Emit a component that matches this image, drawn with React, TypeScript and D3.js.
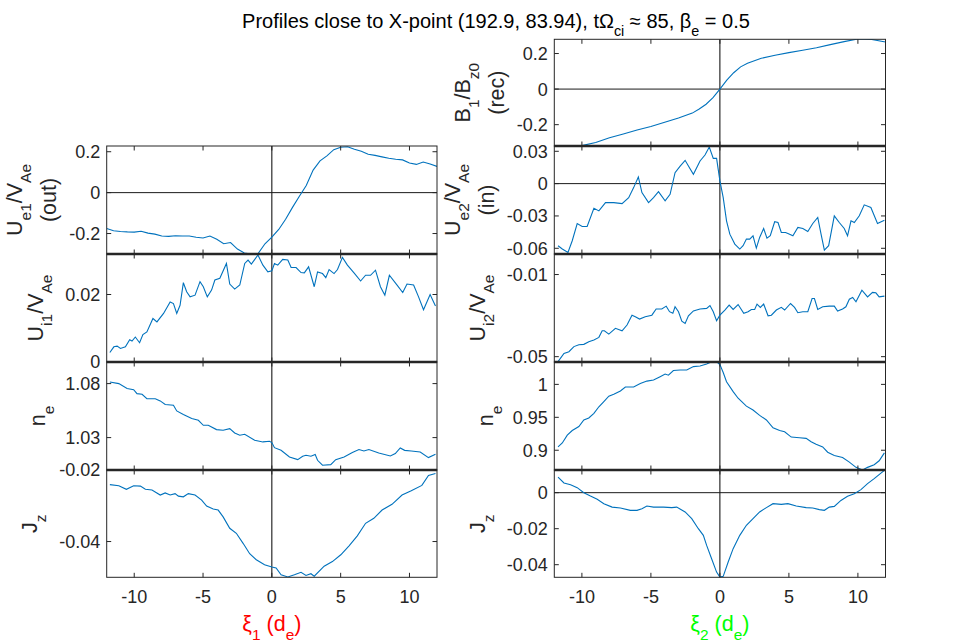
import * as React from 'react';
import * as d3 from 'd3';

type Pt = [number, number];
type Seg = [string, boolean?];

// ---- data (xi in d_e, value) ----
const xiTicks = [-10, -5, 0, 5, 10];
const xiTickLabels = ['-10', '-5', '0', '5', '10'];

const b1Rec: Pt[] = [
  [-12, -0.32], [-11, -0.32], [-10, -0.318], [-9, -0.3], [-8, -0.274], [-7, -0.252],
  [-6, -0.23], [-5, -0.21], [-4, -0.186], [-3, -0.163], [-2, -0.135], [-1.5, -0.112],
  [-1, -0.085], [-0.5, -0.048], [0, 0], [0.5, 0.05], [1, 0.092], [1.5, 0.125], [2, 0.145],
  [3, 0.173], [4, 0.19], [5, 0.205], [6, 0.218], [7, 0.232], [8, 0.25], [9, 0.267],
  [10, 0.282], [11, 0.279], [12, 0.265],
];

const ue1Out: Pt[] = [
  [-12, -0.175], [-11.5, -0.186], [-11, -0.19], [-10.5, -0.192], [-10, -0.193], [-9.5, -0.189],
  [-9, -0.198], [-8.5, -0.203], [-8, -0.212], [-7.5, -0.214], [-7, -0.211], [-6.5, -0.212],
  [-6, -0.212], [-5.5, -0.218], [-5, -0.222], [-4.5, -0.212], [-4, -0.228], [-3.5, -0.25],
  [-3, -0.244], [-2.5, -0.276], [-2, -0.295], [-1.5, -0.3], [-1, -0.298], [-0.5, -0.25],
  [0, -0.217], [0.5, -0.18], [1, -0.13], [1.5, -0.072], [2, -0.018], [2.5, 0.035],
  [3, 0.11], [3.5, 0.155], [4, 0.18], [4.5, 0.21], [5, 0.222], [5.5, 0.224], [6, 0.212],
  [6.5, 0.202], [7, 0.188], [7.5, 0.182], [8, 0.175], [8.5, 0.168], [9, 0.163], [9.5, 0.16],
  [10, 0.145], [10.5, 0.138], [11, 0.15], [11.5, 0.14], [12, 0.128],
];

const ui1: Pt[] = [
  [-11.77, 0.0028], [-11.48, 0.0045], [-11.24, 0.0047], [-11.0, 0.004], [-10.64, 0.0045],
  [-10.33, 0.0066], [-10.16, 0.0062], [-9.92, 0.0074], [-9.61, 0.0057], [-9.37, 0.0081],
  [-9.08, 0.0089], [-8.64, 0.0129], [-8.35, 0.0119], [-7.87, 0.0144], [-7.39, 0.0178],
  [-7.15, 0.0173], [-6.91, 0.0144], [-6.67, 0.0168], [-6.43, 0.0235], [-6.19, 0.0208],
  [-5.94, 0.0193], [-5.58, 0.0198], [-5.22, 0.0238], [-4.98, 0.0223], [-4.69, 0.0193],
  [-4.38, 0.0213], [-4.14, 0.0243], [-3.78, 0.0248], [-3.3, 0.0292], [-3.06, 0.0231],
  [-2.7, 0.0216], [-2.33, 0.0228], [-1.97, 0.0292], [-1.73, 0.0302], [-1.49, 0.029],
  [-1.01, 0.0317], [-0.65, 0.0287], [-0.29, 0.0267], [0, 0.027], [0.19, 0.0292],
  [0.43, 0.0287], [0.79, 0.0304], [1.16, 0.0302], [1.4, 0.028], [1.76, 0.028],
  [2.12, 0.0265], [2.36, 0.0264], [2.67, 0.0282], [3.08, 0.0223], [3.32, 0.0267],
  [3.68, 0.0262], [3.92, 0.025], [4.16, 0.0274], [4.52, 0.0262], [4.77, 0.0274],
  [5.13, 0.031], [5.49, 0.0287], [5.97, 0.0264], [6.45, 0.024], [6.81, 0.0257],
  [7.17, 0.0257], [7.53, 0.0272], [7.89, 0.0223], [8.21, 0.0198], [8.54, 0.0257],
  [9.1, 0.0228], [9.51, 0.0206], [9.82, 0.0231], [10.3, 0.0228], [10.66, 0.0193],
  [11.02, 0.0155], [11.5, 0.02], [11.89, 0.0166],
];

const neLeft: Pt[] = [
  [-11.77, 1.0815], [-11.12, 1.08], [-10.52, 1.0754], [-10.04, 1.0744], [-9.8, 1.0707],
  [-9.43, 1.0701], [-9.08, 1.0661], [-8.47, 1.066], [-8.11, 1.064], [-7.75, 1.0606],
  [-7.15, 1.06], [-6.91, 1.0547], [-6.43, 1.0513], [-5.82, 1.0476], [-5.34, 1.046],
  [-4.98, 1.0414], [-4.62, 1.0414], [-4.02, 1.0374], [-3.54, 1.0368], [-3.06, 1.0383],
  [-2.7, 1.0343], [-2.33, 1.0322], [-1.97, 1.0331], [-1.25, 1.0275], [-0.65, 1.026],
  [-0.17, 1.0266], [0, 1.0254], [0.19, 1.0207], [0.67, 1.0183], [1.28, 1.0121],
  [1.88, 1.0096], [2.24, 1.0127], [2.48, 1.0136], [2.84, 1.0127], [3.15, 1.0143],
  [3.32, 1.009], [3.68, 1.0044], [4.28, 1.005], [4.64, 1.0096], [5.25, 1.0121],
  [5.85, 1.0161], [6.33, 1.0189], [6.69, 1.0176], [7.05, 1.0189], [7.77, 1.0158],
  [8.61, 1.013], [8.97, 1.0152], [9.33, 1.0204], [9.65, 1.0182], [10.13, 1.0176],
  [10.78, 1.0167], [11.38, 1.0115], [11.89, 1.0146],
];

const jzLeft: Pt[] = [
  [-11.77, -0.0241], [-11.12, -0.0244], [-10.57, -0.0254], [-10.04, -0.0244], [-9.55, -0.0245],
  [-9.19, -0.0254], [-8.71, -0.0256], [-8.11, -0.027], [-7.75, -0.0264], [-7.39, -0.027],
  [-7.03, -0.0266], [-6.79, -0.0273], [-6.43, -0.0275], [-6.07, -0.0266], [-5.58, -0.027],
  [-5.1, -0.0284], [-4.74, -0.0301], [-4.26, -0.0309], [-3.9, -0.0312], [-3.54, -0.0331],
  [-3.06, -0.0363], [-2.58, -0.0377], [-2.09, -0.0405], [-1.61, -0.0434], [-1.13, -0.0451],
  [-0.53, -0.0465], [0, -0.0471], [0.31, -0.0474], [0.67, -0.0493], [1.16, -0.0499],
  [1.64, -0.0493], [2.12, -0.0486], [2.48, -0.0495], [2.84, -0.049], [3.08, -0.0497],
  [3.8, -0.0469], [4.4, -0.0456], [5.01, -0.0437], [5.61, -0.0412], [6.21, -0.0384],
  [6.81, -0.0349], [7.41, -0.0335], [8.01, -0.0312], [8.73, -0.0296], [9.46, -0.027],
  [10.13, -0.0258], [10.9, -0.0243], [11.38, -0.0215], [11.89, -0.021],
];

const ue2In: Pt[] = [
  [-11.73, -0.0576], [-11.42, -0.0607], [-11.01, -0.0638], [-10.7, -0.053], [-10.34, -0.037],
  [-9.98, -0.0398], [-9.62, -0.0398], [-9.13, -0.0228], [-8.77, -0.0253], [-8.29, -0.0176],
  [-7.69, -0.0176], [-7.09, -0.0185], [-6.61, -0.013], [-6.25, -0.0037], [-5.91, 0.0062],
  [-5.65, -0.0083], [-5.17, -0.0176], [-4.81, -0.013], [-4.45, -0.0074], [-3.97, -0.016],
  [-3.61, -0.0099], [-3.25, 0.0102], [-2.88, 0.0163], [-2.52, 0.0216], [-2.28, 0.0163],
  [-1.92, 0.0086], [-1.44, 0.021], [-1.08, 0.0265], [-0.77, 0.0339], [-0.48, 0.0234],
  [-0.24, 0.0234], [0, 0.0025], [0.24, -0.013], [0.48, -0.0345], [0.72, -0.0469],
  [1.08, -0.0561], [1.44, -0.0607], [1.68, -0.0576], [1.92, -0.0515], [2.16, -0.0515],
  [2.4, -0.0484], [2.64, -0.0598], [2.88, -0.0499], [3.17, -0.0416], [3.41, -0.0506],
  [3.65, -0.0484], [3.97, -0.0354], [4.21, -0.0361], [4.45, -0.0453], [4.76, -0.0453],
  [5.05, -0.0469], [5.29, -0.0484], [5.65, -0.0407], [6.01, -0.0416], [6.37, -0.0444],
  [6.73, -0.037], [7.09, -0.0314], [7.33, -0.0469], [7.57, -0.0617], [7.88, -0.0576],
  [8.29, -0.0299], [8.65, -0.0361], [9.01, -0.0416], [9.25, -0.0484], [9.5, -0.0345],
  [9.74, -0.0361], [10.1, -0.0299], [10.46, -0.0197], [10.94, -0.0222], [11.42, -0.037],
  [11.92, -0.0339],
];

const ui2: Pt[] = [
  [-11.73, -0.0524], [-11.3, -0.0484], [-10.94, -0.0476], [-10.58, -0.0451], [-10.22, -0.0442],
  [-9.86, -0.044], [-9.5, -0.0427], [-9.13, -0.0419], [-8.77, -0.0406], [-8.53, -0.0374],
  [-8.37, -0.0374], [-8.05, -0.039], [-7.57, -0.0362], [-7.09, -0.0374], [-6.73, -0.0346],
  [-6.37, -0.0298], [-6.13, -0.0306], [-5.82, -0.0317], [-5.41, -0.0306], [-4.93, -0.0298],
  [-4.62, -0.0268], [-4.21, -0.0268], [-3.89, -0.0254], [-3.65, -0.0281], [-3.41, -0.0289],
  [-3.25, -0.0257], [-3.0, -0.0281], [-2.76, -0.0327], [-2.52, -0.0338], [-2.28, -0.0301],
  [-1.92, -0.0277], [-1.44, -0.0268], [-0.96, -0.0265], [-0.72, -0.0251], [-0.48, -0.0281],
  [-0.24, -0.0325], [0, -0.0298], [0.36, -0.0273], [0.67, -0.0249], [0.96, -0.027],
  [1.32, -0.0246], [1.73, -0.0289], [2.04, -0.0281], [2.28, -0.027], [2.52, -0.027],
  [2.69, -0.0244], [2.93, -0.026], [3.17, -0.0244], [3.49, -0.0301], [3.73, -0.0298],
  [4.09, -0.0273], [4.45, -0.026], [4.69, -0.0273], [5.12, -0.0241], [5.41, -0.026],
  [5.65, -0.0286], [6.01, -0.0281], [6.37, -0.0281], [6.68, -0.0217], [6.85, -0.0217],
  [7.09, -0.027], [7.45, -0.0257], [7.93, -0.0254], [8.29, -0.0254], [8.53, -0.0278],
  [8.89, -0.0268], [9.13, -0.0257], [9.38, -0.022], [9.62, -0.0212], [9.86, -0.0233],
  [10.29, -0.0176], [10.7, -0.0209], [11.06, -0.0187], [11.3, -0.0189], [11.54, -0.0209],
  [11.92, -0.0205],
];

const neRight: Pt[] = [
  [-11.73, 0.905], [-11.42, 0.911], [-11.06, 0.923], [-10.7, 0.93], [-10.22, 0.936],
  [-9.86, 0.946], [-9.5, 0.949], [-9.13, 0.956], [-8.77, 0.966], [-8.41, 0.974],
  [-8.05, 0.982], [-7.69, 0.985], [-7.21, 0.99], [-6.85, 0.996], [-6.25, 0.996],
  [-5.77, 1.0015], [-5.29, 1.005], [-4.81, 1.0066], [-4.33, 1.0117], [-3.97, 1.0157],
  [-3.73, 1.014], [-3.37, 1.021], [-2.88, 1.0218], [-2.4, 1.0218], [-1.92, 1.027],
  [-1.44, 1.028], [-0.96, 1.031], [-0.6, 1.0345], [-0.19, 1.0335], [0, 1.03],
  [0.24, 1.018], [0.48, 1.004], [0.96, 0.989], [1.32, 0.979], [1.92, 0.967], [2.4, 0.961],
  [2.88, 0.953], [3.37, 0.946], [3.85, 0.934], [4.33, 0.93], [4.69, 0.928], [5.17, 0.92],
  [5.77, 0.919], [6.25, 0.918], [6.61, 0.913], [6.97, 0.909], [7.45, 0.905], [7.81, 0.897],
  [8.29, 0.892], [8.89, 0.889], [9.38, 0.882], [9.86, 0.874], [10.34, 0.87], [10.7, 0.874],
  [11.18, 0.878], [11.54, 0.884], [11.92, 0.896],
];

const jzRight: Pt[] = [
  [-11.73, 0.0087], [-11.3, 0.0054], [-10.82, 0.0044], [-10.34, 0.0028], [-9.86, 0],
  [-9.38, -0.0019], [-8.89, -0.0037], [-8.41, -0.0061], [-7.81, -0.008], [-7.21, -0.0085],
  [-6.49, -0.0098], [-6.01, -0.0098], [-5.65, -0.0089], [-5.29, -0.0074], [-4.81, -0.008],
  [-4.09, -0.008], [-3.49, -0.0083], [-3.13, -0.008], [-2.52, -0.0107], [-2.04, -0.0144],
  [-1.56, -0.02], [-1.2, -0.0237], [-0.96, -0.0293], [-0.6, -0.0367], [-0.24, -0.0441],
  [0, -0.0469], [0.24, -0.0465], [0.6, -0.0385], [0.96, -0.0311], [1.44, -0.0237],
  [1.92, -0.0181], [2.4, -0.0144], [2.88, -0.0107], [3.37, -0.0083], [3.85, -0.0061],
  [4.45, -0.0065], [4.93, -0.0061], [5.53, -0.0074], [6.25, -0.0083], [6.73, -0.0085],
  [7.21, -0.0094], [7.57, -0.0098], [7.93, -0.008], [8.29, -0.0076], [8.77, -0.0043],
  [9.25, -0.002], [9.74, -0.0006], [10.22, 0.0017], [10.7, 0.005], [11.18, 0.0078],
  [11.92, 0.0124],
];

// ---- layout ----
const W = 963;
const H = 642;
const FONT = "'Liberation Sans', Arial, Helvetica, sans-serif";
const AX = '#262626';
const LINE = '#0072BD';
const TICK_FS = 18;
const LABEL_FS = 21.5;
const TITLE_FS = 20;

const cols = [
  { x0: 106.7, x1: 437 },
  { x0: 554.3, x1: 885.5 },
];
const rowEdges = [39.3, 146, 254, 362, 470, 577.3];

interface Panel {
  col: number;
  row: number;
  data: Pt[];
  yDomain: [number, number];
  yTicks: number[];
  yTickLabels: string[];
  label: Seg[][];
  labelOffsets: number[]; // baseline distance left of the axis, one per line
}

const panels: Panel[] = [
  {
    col: 1, row: 0, data: b1Rec, yDomain: [-0.32, 0.28],
    yTicks: [-0.2, 0, 0.2], yTickLabels: ['-0.2', '0', '0.2'],
    label: [[['B'], ['1', true], ['/B'], ['z0', true]], [['(rec)']]], labelOffsets: [84.7, 50.7],
  },
  {
    col: 0, row: 1, data: ue1Out, yDomain: [-0.3, 0.228],
    yTicks: [-0.2, 0, 0.2], yTickLabels: ['-0.2', '0', '0.2'],
    label: [[['U'], ['e1', true], ['/V'], ['Ae', true]], [['(out)']]], labelOffsets: [84.7, 50.7],
  },
  {
    col: 1, row: 1, data: ue2In, yDomain: [-0.0653, 0.0349],
    yTicks: [-0.06, -0.03, 0, 0.03], yTickLabels: ['-0.06', '-0.03', '0', '0.03'],
    label: [[['U'], ['e2', true], ['/V'], ['Ae', true]], [['(in)']]], labelOffsets: [94.4, 60.4],
  },
  {
    col: 0, row: 2, data: ui1, yDomain: [0, 0.032],
    yTicks: [0, 0.02], yTickLabels: ['0', '0.02'],
    label: [[['U'], ['i1', true], ['/V'], ['Ae', true]]], labelOffsets: [63.7],
  },
  {
    col: 1, row: 2, data: ui2, yDomain: [-0.0526, 0],
    yTicks: [-0.05, -0.01], yTickLabels: ['-0.05', '-0.01'],
    label: [[['U'], ['i2', true], ['/V'], ['Ae', true]]], labelOffsets: [69.7],
  },
  {
    col: 0, row: 3, data: neLeft, yDomain: [1.0, 1.1],
    yTicks: [1.03, 1.08], yTickLabels: ['1.03', '1.08'],
    label: [[['n'], ['e', true]]], labelOffsets: [61.7],
  },
  {
    col: 1, row: 3, data: neRight, yDomain: [0.87, 1.034],
    yTicks: [0.9, 0.95, 1], yTickLabels: ['0.9', '0.95', '1'],
    label: [[['n'], ['e', true]]], labelOffsets: [61.7],
  },
  {
    col: 0, row: 4, data: jzLeft, yDomain: [-0.05, -0.02],
    yTicks: [-0.04, -0.02], yTickLabels: ['-0.04', '-0.02'],
    label: [[['J'], ['z', true]]], labelOffsets: [69.7],
  },
  {
    col: 1, row: 4, data: jzRight, yDomain: [-0.047, 0.0126],
    yTicks: [-0.04, -0.02, 0], yTickLabels: ['-0.04', '-0.02', '0'],
    label: [[['J'], ['z', true]]], labelOffsets: [69.7],
  },
];

const Rich: React.FC<{ segs: Seg[]; size: number; sub?: number; drop?: number }> = ({
  segs,
  size,
  sub = 0.72,
  drop = 0.42,
}) => {
  let down = false;
  return (
    <>
      {segs.map(([t, isSub], i) => {
        let dy = 0;
        if (isSub && !down) {
          dy = size * drop;
          down = true;
        } else if (!isSub && down) {
          dy = -size * drop;
          down = false;
        }
        return (
          <tspan key={i} dy={dy || undefined} fontSize={isSub ? size * sub : size}>
            {t}
          </tspan>
        );
      })}
    </>
  );
};

const PanelView: React.FC<{ p: Panel; idx: number }> = ({ p, idx }) => {
  const { x0, x1 } = cols[p.col];
  const y0 = rowEdges[p.row];
  const y1 = rowEdges[p.row + 1];
  const x = d3.scaleLinear([-12, 12], [x0, x1]);
  const y = d3.scaleLinear(p.yDomain, [y1, y0]);
  const line = d3
    .line<Pt>()
    .x((d) => x(d[0]))
    .y((d) => y(d[1]));
  const clipId = `clip-${idx}`;
  const tl = 4.5;
  const cy = (y0 + y1) / 2;
  const showZero = p.yDomain[0] < 0 && p.yDomain[1] > 0;

  return (
    <g>
      <defs>
        <clipPath id={clipId}>
          <rect x={x0} y={y0} width={x1 - x0} height={y1 - y0} />
        </clipPath>
      </defs>
      <line x1={x(0)} x2={x(0)} y1={y0} y2={y1} stroke="#000" strokeWidth={1} />
      {showZero && (
        <line x1={x0} x2={x1} y1={y(0)} y2={y(0)} stroke="#1a1a1a" strokeWidth={1} />
      )}
      <path
        d={line(p.data) ?? ''}
        fill="none"
        stroke={LINE}
        strokeWidth={1.1}
        clipPath={`url(#${clipId})`}
      />
      <rect x={x0} y={y0} width={x1 - x0} height={y1 - y0} fill="none" stroke={AX} strokeWidth={1} />
      {xiTicks.map((t) => (
        <g key={`xt${t}`} stroke={AX} strokeWidth={1}>
          <line x1={x(t)} x2={x(t)} y1={y1} y2={y1 - tl} />
          <line x1={x(t)} x2={x(t)} y1={y0} y2={y0 + tl} />
        </g>
      ))}
      {p.yTicks.map((t, i) => (
        <g key={`yt${t}`}>
          <line x1={x0} x2={x0 + tl} y1={y(t)} y2={y(t)} stroke={AX} />
          <line x1={x1} x2={x1 - tl} y1={y(t)} y2={y(t)} stroke={AX} />
          <text
            x={x0 - 6.5}
            y={y(t)}
            dy="0.36em"
            textAnchor="end"
            fontSize={TICK_FS}
            fill={AX}
          >
            {p.yTickLabels[i]}
          </text>
        </g>
      ))}
      {p.label.map((segs, i) => (
        <text
          key={`lb${i}`}
          transform={`translate(${x0 - p.labelOffsets[i]},${cy}) rotate(-90)`}
          textAnchor="middle"
          fontSize={LABEL_FS}
          fill={AX}
        >
          <Rich segs={segs} size={LABEL_FS} />
        </text>
      ))}
    </g>
  );
};

const titleSegs: Seg[] = [
  ['Profiles close to X-point (192.9, 83.94), t\u03A9'],
  ['ci', true],
  [' \u2248 85, \u03B2'],
  ['e', true],
  [' = 0.5'],
];

const xLabels: { segs: Seg[]; color: string }[] = [
  { segs: [['\u03BE'], ['1', true], [' (d'], ['e', true], [')']], color: '#FF0000' },
  { segs: [['\u03BE'], ['2', true], [' (d'], ['e', true], [')']], color: '#00FF00' },
];

const App: React.FC = () => {
  const bottom = rowEdges[5];
  return (
    <svg
      width={W}
      height={H}
      viewBox={`0 0 ${W} ${H}`}
      style={{ position: 'absolute', left: 0, top: 0, background: '#fff' }}
      fontFamily={FONT}
    >
      <rect width={W} height={H} fill="#fff" />
      <text x={496} y={28} textAnchor="middle" fontSize={TITLE_FS} fill="#000">
        <Rich segs={titleSegs} size={TITLE_FS} drop={0.4} />
      </text>
      {panels.map((p, i) => (
        <PanelView key={i} p={p} idx={i} />
      ))}
      {/* heavier lines where stacked axes meet */}
      {rowEdges.slice(1, 5).map((e, i) =>
        cols.map((c, ci) =>
          ci === 0 && i === 0 ? null : (
            <line key={`sep${i}-${ci}`} x1={c.x0} x2={c.x1} y1={e} y2={e} stroke={AX} strokeWidth={2.6} />
          )
        )
      )}
      {cols.map((c, ci) => {
        const x = d3.scaleLinear([-12, 12], [c.x0, c.x1]);
        return (
          <g key={`xa${ci}`}>
            {xiTicks.map((t, i) => (
              <text
                key={t}
                x={x(t)}
                y={bottom + 26}
                textAnchor="middle"
                fontSize={TICK_FS}
                fill={AX}
              >
                {xiTickLabels[i]}
              </text>
            ))}
            <text x={x(0)} y={bottom + 54} textAnchor="middle" fontSize={LABEL_FS} fill={xLabels[ci].color}>
              <Rich segs={xLabels[ci].segs} size={LABEL_FS} />
            </text>
          </g>
        );
      })}
    </svg>
  );
};

export default App;
